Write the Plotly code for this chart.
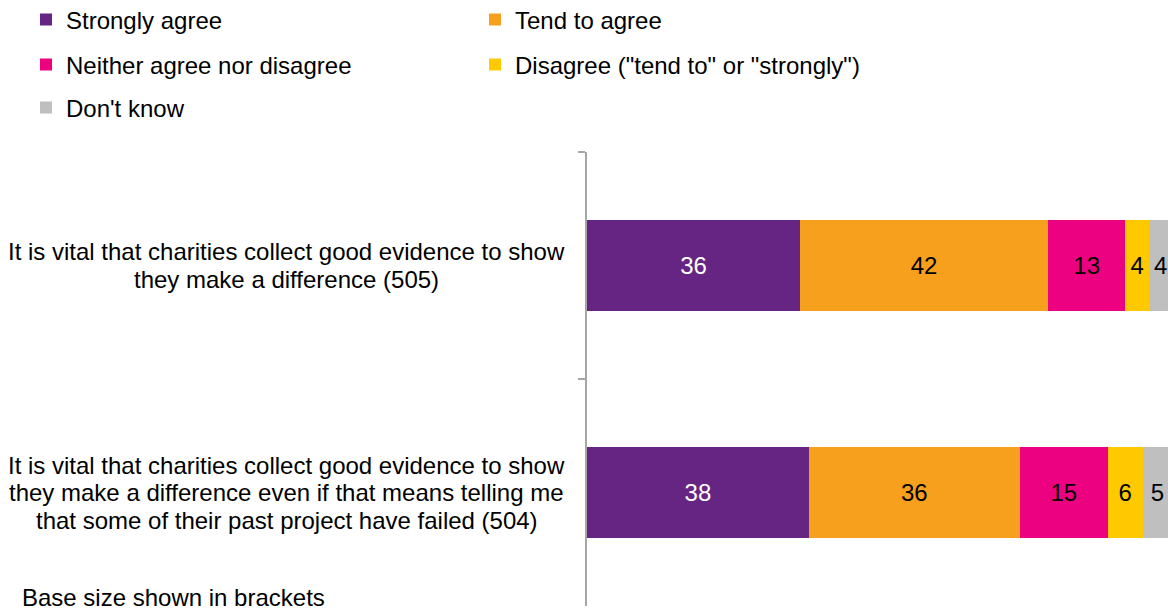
import plotly.graph_objects as go

categories = [
    "It is vital that charities collect good evidence to show<br>they make a difference (505)",
    "It is vital that charities collect good evidence to show<br>they make a difference even if that means telling me<br>that some of their past project have failed (504)",
]
series_names = ["Strongly agree", "Tend to agree", "Neither agree nor disagree",
                'Disagree ("tend to" or "strongly")', "Don't know"]
strongly_agree = [36.4, 37.9]
tend_to_agree = [42.4, 36.1]
neither = [13.2, 15.0]
disagree = [4.1, 6.0]
dont_know = [3.9, 5.0]
values = [strongly_agree, tend_to_agree, neither, disagree, dont_know]
colors = ["#662483", "#F7A01E", "#EC0180", "#FFC900", "#BFBFBF"]
text_colors = ["white", "black", "black", "black", "black"]
note = "Base size shown in brackets"

FONT = "Liberation Sans, Arial, sans-serif"
FS = 24
W, H = 1168, 610
ML, MR, MT, MB = 587, 0, 152, 4
PW, PH = W - ML - MR, H - MT - MB


def px_x(px):
    return (px - ML) / PW


def px_y(py):
    return (H - MB - py) / PH


# legend slots (pixels): column x, row y
leg_x = [26, 475, 26, 475, 26]
leg_y = [20, 20, 65, 65, 108]
legend_ids = ["legend", "legend2", "legend3", "legend4", "legend5"]

fig = go.Figure()
idx = list(range(len(categories)))
for name, vals, col, tc, lg in zip(series_names, values, colors, text_colors, legend_ids):
    fig.add_trace(go.Bar(
        y=idx, x=vals, name=name, orientation="h",
        marker=dict(color=col, line=dict(width=0)),
        texttemplate="%{x:.0f}", textposition="inside", insidetextanchor="middle",
        textangle=0, constraintext="none",
        textfont=dict(color=tc, size=FS, family=FONT),
        legend=lg, hoverinfo="skip",
    ))

LINE = 27.5
for i, c in enumerate(categories):
    lines = c.split("<br>")
    n = len(lines)
    for k, ln in enumerate(lines):
        fig.add_annotation(
            x=px_x(286.5), xref="paper", y=i, yref="y", text=ln, showarrow=False,
            xanchor="center", yanchor="middle", yshift=-(k - (n - 1) / 2) * LINE,
            font=dict(size=FS, family=FONT, color="black"),
        )

fig.add_annotation(
    x=px_x(20), xref="paper", y=px_y(597), yref="paper",
    text=note, showarrow=False,
    xanchor="left", yanchor="middle", font=dict(size=FS, family=FONT, color="black"),
)

legends = {}
for lg, lx, ly in zip(legend_ids, leg_x, leg_y):
    legends[lg] = dict(
        orientation="h", xref="container", yref="container",
        x=lx / W, y=1 - ly / H, xanchor="left", yanchor="middle",
        font=dict(size=FS, family=FONT, color="black"),
        bgcolor="rgba(0,0,0,0)",
    )

fig.update_layout(
    width=W, height=H, barmode="stack", bargap=0.6,
    plot_bgcolor="white", paper_bgcolor="white",
    margin=dict(l=ML, r=MR, t=MT, b=MB),
    font=dict(family=FONT, size=FS, color="black"),
    xaxis=dict(range=[0, 99.3], visible=False, fixedrange=True),
    yaxis=dict(
        type="category", autorange=False, range=[1.5, -0.5],
        showticklabels=False, showline=True, linecolor="#A6A6A6", linewidth=2,
        ticks="outside", tickson="boundaries", ticklen=7, tickcolor="#A6A6A6",
        tickwidth=2, showgrid=False, zeroline=False, fixedrange=True,
    ),
    showlegend=True,
    **legends,
)

fig.write_html(
    "out.html",
    config={"displayModeBar": False},
    post_script="document.body.style.margin='0';document.body.style.overflow='hidden';",
)
